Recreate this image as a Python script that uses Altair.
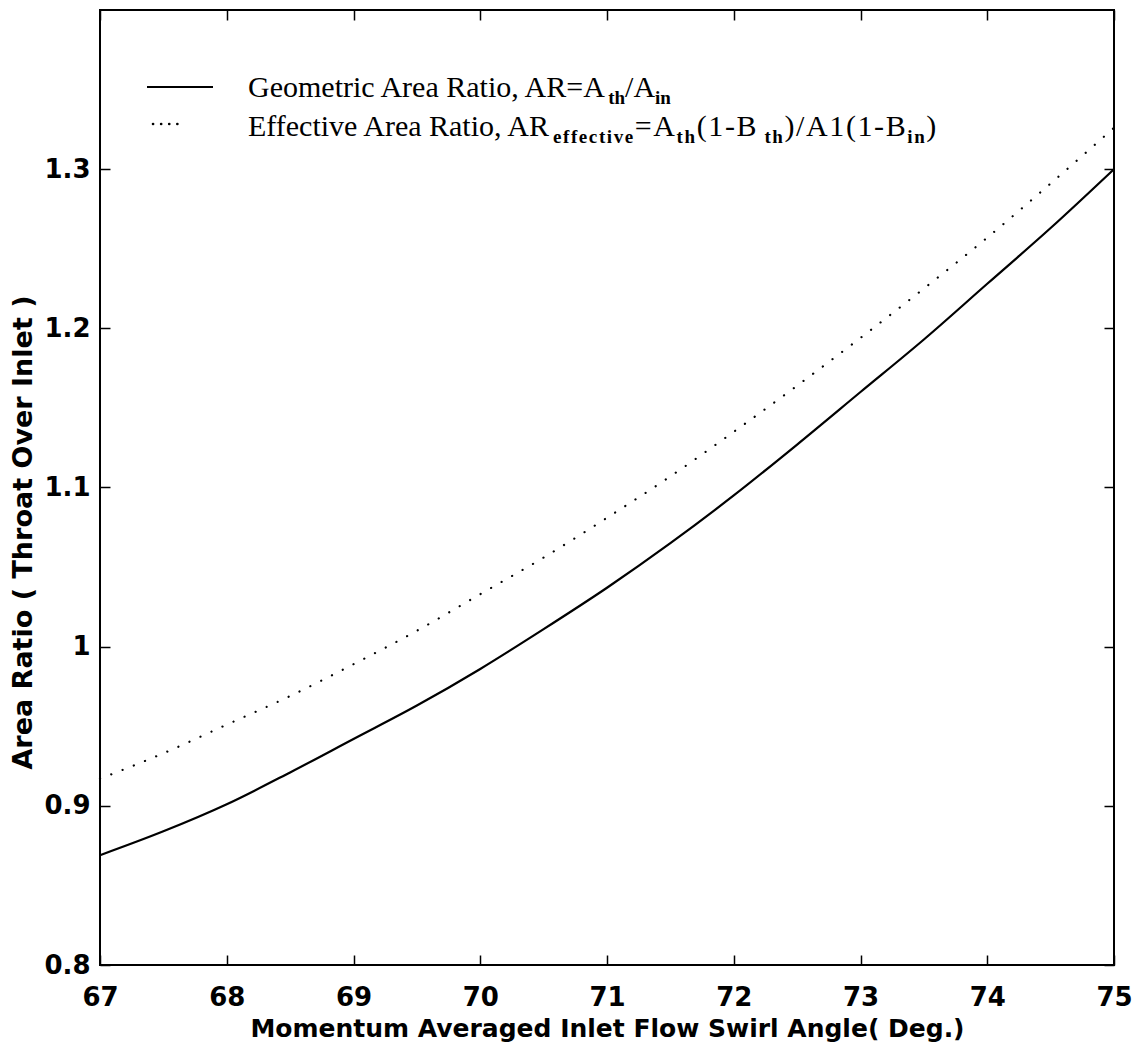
import altair as alt
import pandas as pd

# ---- data ----
angle = [67, 67.5, 68, 68.5, 69, 69.5, 70, 70.5, 71, 71.5, 72, 72.5, 73, 73.5, 74, 74.5, 75]
geometric = [0.869, 0.884, 0.901, 0.921, 0.942, 0.963, 0.986, 1.011, 1.037, 1.065,
             1.095, 1.127, 1.160, 1.193, 1.228, 1.263, 1.300]
effective = [0.917, 0.933, 0.951, 0.969, 0.989, 1.010, 1.033, 1.056, 1.081, 1.107,
             1.135, 1.164, 1.194, 1.225, 1.257, 1.291, 1.326]

x_ticks = [67, 68, 69, 70, 71, 72, 73, 74, 75]
y_ticks = [0.8, 0.9, 1.0, 1.1, 1.2, 1.3]

legend_line1 = [("Geometric Area Ratio, AR=A", False), ("th", True), ("/A", False), ("in", True)]
legend_line2 = [("Effective Area Ratio, AR", False), ("effective", True), ("=A", False),
                ("th", True), ("(1-B", False), (" th", True), (")/A1(1-B", False),
                ("in", True), (")", False)]

# ---- styling ----
W, H = 1014, 955
SANS = "DejaVu Sans"
SERIF = "Liberation Serif"
MAIN_SIZE = 30
SUB_SIZE = 19

TIMES = {" ": 250, "(": 333, ")": 333, ",": 250, "-": 333, ".": 250, "/": 278, "1": 500,
         "=": 564, "A": 722, "B": 667, "E": 611, "G": 722, "R": 667, "a": 444, "c": 444,
         "e": 444, "f": 333, "h": 500, "i": 278, "m": 778, "n": 500, "o": 500, "r": 333,
         "t": 278, "v": 500}
TIMES_B = {" ": 250, "e": 444, "f": 333, "c": 444, "t": 333, "i": 278, "v": 500, "h": 556,
           "n": 556}


def seg_width(s, sub):
    table = TIMES_B if sub else TIMES
    size = SUB_SIZE if sub else MAIN_SIZE
    return sum(table.get(ch, 500) for ch in s) * size / 1000.0


df = pd.DataFrame({"angle": angle, "geo": geometric, "eff": effective})

xscale = alt.Scale(domain=[67, 75], nice=False, zero=False)
yscale = alt.Scale(domain=[0.8, 1.4], nice=False, zero=False)

common_axis = dict(tickSize=10, offset=-10, domain=False, ticks=True, tickColor="black",
                   tickWidth=1.5, grid=False, labelFlush=False, labelOverlap=False,
                   labelFont=SANS, labelFontSize=26, labelFontWeight="bold",
                   labelColor="black", titleFont=SANS, titleFontWeight="bold",
                   titleColor="black")

solid = alt.Chart(df).mark_line(color="black", strokeWidth=2.2, interpolate="monotone").encode(
    x=alt.X("angle:Q", scale=xscale,
            axis=alt.Axis(orient="bottom", values=x_ticks, labelPadding=19,
                          title="Momentum Averaged Inlet Flow Swirl Angle( Deg.)",
                          titlePadding=6, titleFontSize=25, **common_axis)),
    y=alt.Y("geo:Q", scale=yscale,
            axis=alt.Axis(orient="left", values=y_ticks, format="~g", labelPadding=10,
                          title="Area Ratio ( Throat Over Inlet )", titlePadding=6,
                          titleFontSize=27, titleY=522, **common_axis)),
)

dotted = alt.Chart(df).mark_line(color="black", strokeWidth=2.2, strokeDash=[0.1, 12],
                                 strokeCap="round", interpolate="monotone").encode(
    x=alt.X("angle:Q", scale=xscale,
            axis=alt.Axis(orient="top", values=x_ticks, labels=False, title=None,
                          **common_axis)),
    y=alt.Y("eff:Q", scale=yscale,
            axis=alt.Axis(orient="right", values=y_ticks, labels=False, title=None,
                          **common_axis)),
)

# ---- legend (drawn by hand to allow subscripts) ----
dummy = pd.DataFrame({"k": [0]})
LX = 148
layers = [solid, dotted]
layers.append(alt.Chart(dummy).mark_rule(color="black", strokeWidth=2).encode(
    x=alt.value(47), x2=alt.value(113), y=alt.value(77)))
layers.append(alt.Chart(dummy).mark_rule(color="black", strokeWidth=2.6, strokeDash=[0.1, 8],
                                         strokeCap="round").encode(
    x=alt.value(53), x2=alt.value(80), y=alt.value(114)))


def text_layer(text, sub, x, base):
    return alt.Chart(dummy).mark_text(
        text=text, align="left", baseline="alphabetic", font=SERIF,
        fontSize=SUB_SIZE if sub else MAIN_SIZE,
        fontWeight="bold" if sub else "normal", color="black").encode(
        x=alt.value(x), y=alt.value(base + (7 if sub else 0)))


# line 1: set as whole segments
xpos = LX
for text, sub in legend_line1:
    layers.append(text_layer(text, sub, xpos, 87))
    xpos += seg_width(text, sub)

# line 2: the formula part after "AR" is set with looser letter spacing, as in the reference
xpos = LX
EXTRA = 1.6
for i, (text, sub) in enumerate(legend_line2):
    if i == 0:
        layers.append(text_layer(text, sub, xpos, 126))
        xpos += seg_width(text, sub)
        continue
    for ch in text:
        if ch != " ":
            layers.append(text_layer(ch, sub, xpos, 126))
        xpos += seg_width(ch, sub) + EXTRA

chart = alt.layer(*layers).resolve_axis(x="independent", y="independent").properties(
    width=W, height=H,
    autosize=alt.AutoSizeParams(type="none"),
    padding={"left": 100, "top": 10, "right": 23, "bottom": 84},
    background="white",
).configure_view(stroke="black", strokeWidth=2)

chart.save("out.html", embed_options={"renderer": "svg", "actions": False})
